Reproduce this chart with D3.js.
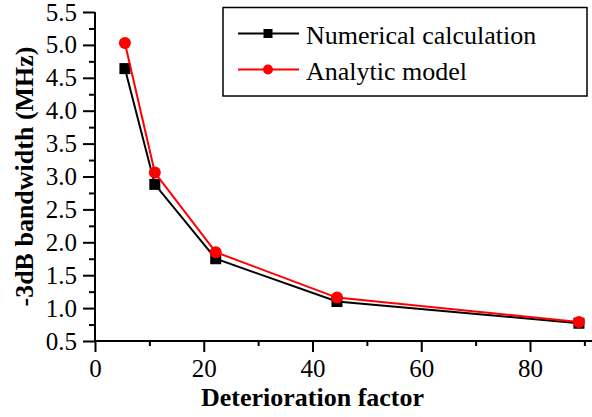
<!DOCTYPE html>
<html><head><meta charset="utf-8">
<script src="https://cdn.jsdelivr.net/npm/d3@7"></script>
<style>body{margin:0;background:#fff;}svg{display:block;}</style>
</head><body>
<svg id="c" width="592" height="417"></svg>
<script>
const xVals = [5.5, 11.0, 22.2, 44.5, 89.0];
const numerical = [4.64, 2.88, 1.75, 1.10, 0.77];
const analytic = [5.03, 3.06, 1.85, 1.16, 0.79];
const seriesNames = ["Numerical calculation", "Analytic model"];
const seriesColors = ["#000000", "#ff0000"];
const xTicks = [0, 20, 40, 60, 80];
const yTicks = [0.5, 1.0, 1.5, 2.0, 2.5, 3.0, 3.5, 4.0, 4.5, 5.0, 5.5];
const xLabel = "Deterioration factor";
const yLabel = "-3dB bandwidth (MHz)";

const svg = d3.select("#c");
const font = "'Liberation Serif','Times New Roman',serif";
const x = d3.scaleLinear().domain([0, 80]).range([95, 530]);
const y = d3.scaleLinear().domain([0.5, 5.5]).range([341, 12]);
const xMax = x.invert(592);

// axes
const yAxis = d3.axisLeft(y).tickValues(yTicks).tickFormat(d3.format(".1f")).tickSize(12).tickPadding(6);
const gy = svg.append("g").attr("transform", `translate(${x(0)},0)`).call(yAxis);
const yMinor = d3.range(0.75, 5.5, 0.5);
svg.append("g").attr("transform", `translate(${x(0)},0)`)
  .call(d3.axisLeft(y).tickValues(yMinor).tickFormat("").tickSize(6))
  .call(g => g.select(".domain").remove());

const xAxis = d3.axisBottom(x).tickValues(xTicks).tickFormat(d3.format("d")).tickSize(11).tickPadding(7);
const gx = svg.append("g").attr("transform", `translate(0,${y(0.5)})`).call(xAxis);
svg.append("g").attr("transform", `translate(0,${y(0.5)})`)
  .call(d3.axisBottom(x).tickValues([10, 30, 50, 70, 90]).tickFormat("").tickSize(5))
  .call(g => g.select(".domain").remove());

gx.select(".domain").attr("d", `M${x(0)},0H592`);
gy.select(".domain").attr("d", `M0,${y(5.5)}V${y(0.5)}`);

svg.selectAll(".domain, .tick line").attr("stroke", "#000").attr("stroke-width", 2);
svg.selectAll(".tick text").attr("font-family", font).attr("font-size", 25).attr("fill", "#000");

svg.append("text").attr("x", x(40)).attr("y", 406).attr("text-anchor", "middle")
  .attr("font-family", font).attr("font-size", 26).attr("font-weight", "bold").text(xLabel);
svg.append("text").attr("transform", `translate(33,${(y(0.5)+y(5.5))/2}) rotate(-90)`)
  .attr("text-anchor", "middle").attr("font-family", font).attr("font-size", 26)
  .attr("font-weight", "bold").text(yLabel);

const line = d3.line().x(d => x(d[0])).y(d => y(d[1]));
const data = [numerical, analytic].map(s => xVals.map((v, i) => [v, s[i]]));

data.forEach((pts, k) => {
  svg.append("path").datum(pts).attr("d", line).attr("fill", "none")
    .attr("stroke", seriesColors[k]).attr("stroke-width", 2);
  if (k === 0) {
    svg.selectAll(null).data(pts).enter().append("rect")
      .attr("x", d => x(d[0]) - 5.5).attr("y", d => y(d[1]) - 5.5)
      .attr("width", 11).attr("height", 11).attr("fill", seriesColors[k]);
  } else {
    svg.selectAll(null).data(pts).enter().append("circle")
      .attr("cx", d => x(d[0])).attr("cy", d => y(d[1])).attr("r", 6)
      .attr("fill", seriesColors[k]);
  }
});

// legend
const lg = svg.append("g");
lg.append("rect").attr("x", 223).attr("y", 7.5).attr("width", 364).attr("height", 88.5)
  .attr("fill", "#fff").attr("stroke", "#000").attr("stroke-width", 1.5);
const rows = [33.5, 69.5];
seriesNames.forEach((name, k) => {
  const ry = rows[k];
  lg.append("line").attr("x1", 238).attr("x2", 299).attr("y1", ry).attr("y2", ry)
    .attr("stroke", seriesColors[k]).attr("stroke-width", 2);
  if (k === 0) lg.append("rect").attr("x", 268 - 4.5).attr("y", ry - 4.5).attr("width", 9).attr("height", 9).attr("fill", seriesColors[k]);
  else lg.append("circle").attr("cx", 268).attr("cy", ry).attr("r", 5).attr("fill", seriesColors[k]);
  lg.append("text").attr("x", 306).attr("y", ry + 10).attr("font-family", font).attr("font-size", 26)
    .attr("fill", "#000").text(name);
});
</script>
</body></html>
